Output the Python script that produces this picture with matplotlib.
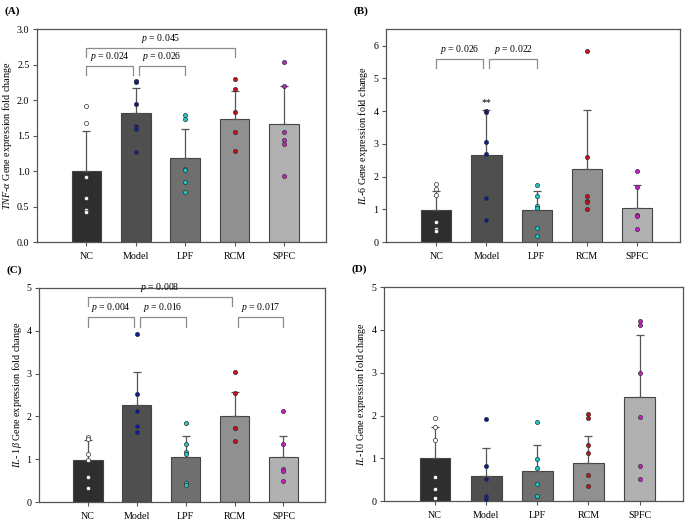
import matplotlib
matplotlib.use("Agg")
import matplotlib.pyplot as plt
import numpy as np

plt.rcParams['font.family'] = ['Liberation Serif', 'DejaVu Serif']
plt.rcParams['mathtext.fontset'] = 'custom'
plt.rcParams['mathtext.it'] = 'Liberation Serif:italic'
plt.rcParams['mathtext.rm'] = 'Liberation Serif'

groups = ["NC", "Model", "LPF", "RCM", "SPFC"]
bar_colors = ["#2e2e2e", "#4f4f4f", "#6f6f6f", "#909090", "#b1b1b1"]
dot_colors = ["#ffffff", "#0a1a9a", "#20c8c8", "#c81010", "#c81ec8"]

# TNF-alpha
tnf_mean = [1.00, 1.82, 1.18, 1.74, 1.67]
tnf_top = [1.56, 2.17, 1.59, 2.13, 2.20]
tnf_pts = [[1.92, 1.68, 0.92, 0.62, 0.45, 0.43],
           [2.27, 2.25, 1.94, 1.64, 1.59, 1.27],
           [1.79, 1.73, 1.03, 1.02, 0.85, 0.71],
           [2.30, 2.16, 1.83, 1.55, 1.28],
           [2.54, 2.20, 1.55, 1.44, 1.38, 0.93]]

# IL-6
il6_mean = [0.99, 2.66, 0.99, 2.22, 1.03]
il6_top = [1.57, 4.02, 1.57, 4.03, 1.76]
il6_pts = [[1.78, 1.62, 1.45, 0.63, 0.40, 0.35],
           [4.00, 3.96, 3.06, 2.69, 1.36, 0.69],
           [1.76, 1.40, 1.11, 1.03, 0.44, 0.18],
           [5.85, 2.59, 1.42, 1.26, 1.24, 1.02],
           [2.17, 1.68, 0.84, 0.80, 0.39]]

# IL-1beta
il1b_mean = [0.99, 2.26, 1.05, 2.02, 1.04]
il1b_top = [1.45, 3.04, 1.54, 2.57, 1.55]
il1b_pts = [[1.53, 1.48, 1.12, 0.99, 0.59, 0.33],
            [3.93, 2.52, 2.13, 1.77, 1.64],
            [1.84, 1.36, 1.16, 1.11, 0.44, 0.39],
            [3.03, 2.54, 1.74, 1.73, 1.42],
            [2.12, 1.35, 0.78, 0.73, 0.50]]

# IL-10
il10_mean = [1.01, 0.58, 0.70, 0.90, 2.43]
il10_top = [1.74, 1.24, 1.30, 1.52, 3.89]
il10_pts = [[1.95, 1.74, 1.43, 0.57, 0.28, 0.07],
            [1.91, 0.83, 0.52, 0.12, 0.05],
            [1.85, 0.99, 0.77, 0.40, 0.13, 0.12],
            [2.03, 1.94, 1.32, 1.12, 0.62, 0.36],
            [4.21, 4.12, 2.99, 1.96, 0.82, 0.51]]

# brackets: (left group, right group, line y, leg length, label)
tnf_brackets = [(0, 3, 2.73, 0.12, "0.045"), (0, 1, 2.48, 0.13, "0.024"), (1, 2, 2.48, 0.13, "0.026")]
il6_brackets = [(0, 1, 5.59, 0.28, "0.026"), (1, 2, 5.59, 0.28, "0.022")]
il1b_brackets = [(0, 3, 4.79, 0.22, "0.008"), (0, 1, 4.32, 0.22, "0.004"),
                 (1, 2, 4.32, 0.22, "0.016"), (3, 4, 4.32, 0.22, "0.017")]

panels = [
    ("(A)", [0.054, 0.536, 0.422, 0.408], tnf_mean, tnf_top, tnf_pts, tnf_brackets,
     r"$TNF$-$\alpha$ Gene expression fold change", 3.0, np.arange(0, 3.01, 0.5), "%.1f"),
    ("(B)", [0.5635, 0.536, 0.429, 0.408], il6_mean, il6_top, il6_pts, il6_brackets,
     r"$IL$-$6$ Gene expression fold change", 6.5, np.arange(0, 7, 1), "%d"),
    ("(C)", [0.057, 0.0383, 0.4175, 0.41], il1b_mean, il1b_top, il1b_pts, il1b_brackets,
     r"$IL$- $1\beta$ Gene expression fold change", 5.0, np.arange(0, 6, 1), "%d"),
    ("(D)", [0.5606, 0.040, 0.4365, 0.41], il10_mean, il10_top, il10_pts, [],
     r"$IL$-$10$ Gene expression fold change", 5.0, np.arange(0, 6, 1), "%d"),
]

fig = plt.figure(figsize=(6.85, 5.22), dpi=100)
x = np.arange(len(groups))

for tag, rect, mean, top, pts, brackets, ylabel, ymax, yticks, fmt in panels:
    ax = fig.add_axes(rect)
    ax.bar(x, mean, width=0.6, color=bar_colors, edgecolor="#444444", linewidth=0.8, zorder=2)
    # upper error bars only
    err = np.array(top) - np.array(mean)
    ax.errorbar(x, mean, yerr=[np.zeros(len(x)), err], fmt="none", ecolor="#555555",
                elinewidth=0.9, capsize=3, capthick=0.9, zorder=3)
    for i in range(len(x)):
        ax.scatter([x[i]] * len(pts[i]), pts[i], s=9, color=dot_colors[i],
                   edgecolor="#333333", linewidth=0.5, zorder=4)
    for a, b, yl, leg, lab in brackets:
        xa = a + (0.06 if a > 0 and any(bb == a for _, bb, _, _, _ in brackets) else 0)
        xb = b - (0.06 if any(aa == b for aa, _, _, _, _ in brackets) else 0)
        ax.plot([xa, xa, xb, xb], [yl - leg, yl, yl, yl - leg], color="#8c8c8c", lw=0.9, zorder=1)
        ax.annotate(r"$p$ = " + lab, ((xa + xb) / 2, yl), xytext=(0, 2.5), textcoords="offset points",
                    ha="center", va="bottom", fontsize=7)
    if tag == "(B)":
        ax.text(1, 4.12, "**", ha="center", va="bottom", fontsize=7)
    ax.set_xlim(-1, 4.85)
    ax.set_ylim(0, ymax)
    ax.set_yticks(yticks)
    ax.set_yticklabels([fmt % v for v in yticks])
    ax.set_xticks(x)
    ax.set_xticklabels(groups)
    ax.tick_params(labelsize=7.2, length=3, width=0.8, color="#555555")
    ax.tick_params(axis="x", length=3, pad=4)
    ax.tick_params(axis="y", pad=2.5)
    for s in ax.spines.values():
        s.set_color("#555555")
        s.set_linewidth(0.9)
    ax.set_ylabel(ylabel, fontsize=7.3, labelpad=2)
    fig.text(rect[0] - 0.048, rect[1] + rect[3] + 0.035, tag, fontsize=8, fontweight="bold",
             ha="left", va="center")

fig.savefig("out.png", dpi=100)
